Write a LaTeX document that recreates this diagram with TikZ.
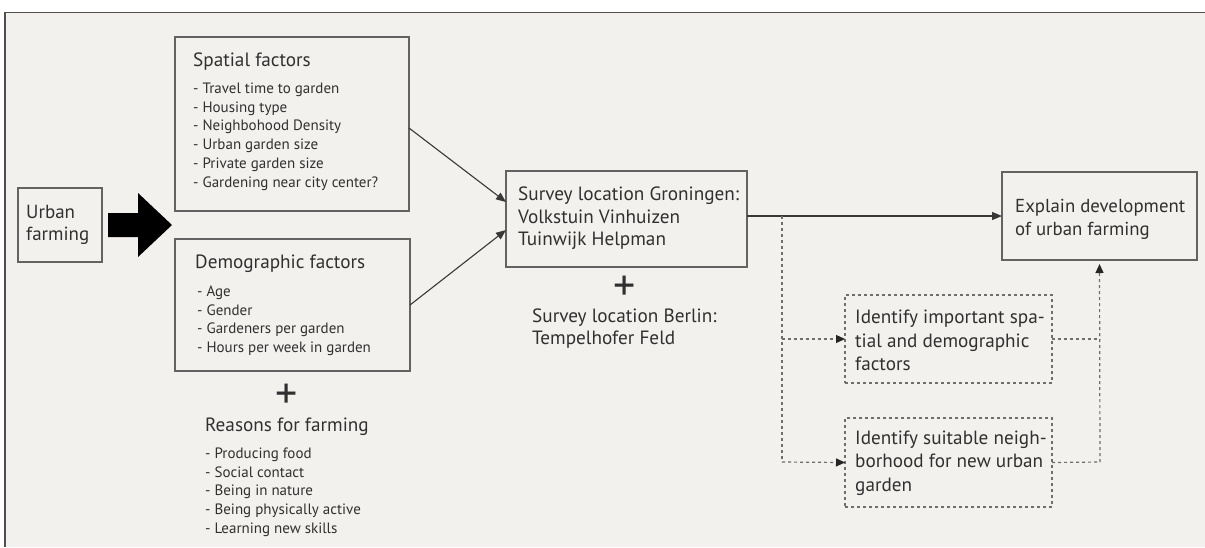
\documentclass[tikz,border=0pt]{standalone}
\usepackage{fontspec}
\setmainfont{PT Sans}
\usetikzlibrary{arrows.meta,calc}
\definecolor{bg}{HTML}{F2F1EE}
\definecolor{txt}{HTML}{303030}
\definecolor{frame}{HTML}{636363}
\definecolor{dline}{HTML}{6E6E6E}
\newlength\calw
\newcommand\calib[3]{\settowidth\calw{\fontsize{10}{12}\selectfont #2}\pgfmathsetmacro#1{10*#3/\calw}}
\tikzset{
  box/.style={draw=frame, line width=1.4pt, inner sep=0pt, outer sep=0pt},
  dbox/.style={draw=dline, line width=1.2pt, dash pattern=on 3pt off 3pt, inner sep=0pt, outer sep=0pt},
  txtbase/.style={text=txt, inner sep=0pt, anchor=base west},
  item/.style={txtbase, font=\fontsize{\szitem}{\szitem}\selectfont},
  ttl/.style={txtbase, font=\fontsize{\szttl}{\szttl}\selectfont},
  surv/.style={txtbase, font=\fontsize{\szsurv}{\szsurv}\selectfont},
  expl/.style={txtbase, font=\fontsize{\szexpl}{\szexpl}\selectfont},
  iden/.style={txtbase, font=\fontsize{\sziden}{\sziden}\selectfont},
  urb/.style={txtbase, font=\fontsize{\szurb}{\szurb}\selectfont},
  conn/.style={draw=black!78, line width=1.1pt, -{Triangle[length=10pt,width=8pt]}},
  dconn/.style={draw=dline, line width=1.2pt, dash pattern=on 3pt off 3pt},
  darr/.style={dconn, -{Triangle[length=9pt,width=8pt,color=black!85,fill=black!85]}},
  plus/.style={text=txt, inner sep=0pt, font=\fontsize{44}{44}\selectfont},
}
\begin{document}
\calib\szitem{- Gardening near city center?}{185}%
\calib\szttl{Demographic factors}{170}%
\calib\szsurv{Survey location Groningen:}{221}%
\calib\szexpl{Explain development}{170}%
\calib\sziden{borhood for new urban}{188}%
\calib\szurb{farming}{63}%
\begin{tikzpicture}[x=1pt,y=-1pt]
\useasboundingbox (0,0) rectangle (1205,547);
\fill[white] (0,0) rectangle (1205,547);
\fill[bg] (5,13) rectangle (1205,547);
\draw[frame!80!black, line width=1.5pt] (5,547) -- (5,12.5) -- (1205,12.5);

% Urban farming
\node[box, minimum width=84pt, minimum height=74pt] (urban) at (60,225) {};
\node[urb] (u1) at (26,218) {Urban};
\node[urb] (u2) at (26,240) {farming};
\fill[black] ($(urban.east)+(6,-12)$) -- ++(30,0) -- ++(0,-20) -- ++(34,32) -- ++(-34,32) -- ++(0,-20) -- ++(-30,0) -- cycle;

% Spatial factors
\node[box, minimum width=234pt, minimum height=174pt] (spatial) at (292,124) {};
\node[ttl] (spt) at (193,66) {Spatial factors};
\foreach \t [count=\i] in {{- Travel time to garden},{- Housing type},{- Neighbohood Density},{- Urban garden size},{- Private garden size},{- Gardening near city center?}}
  \node[item] (sp\i) at (193,{93.5+18.7*(\i-1)}) {\t};

% Demographic factors
\node[box, minimum width=235pt, minimum height=132pt] (demo) at (292.5,305) {};
\node[ttl] (dmt) at (195,268) {Demographic factors};
\foreach \t [count=\i] in {{- Age},{- Gender},{- Gardeners per garden},{- Hours per week in garden}}
  \node[item] (dm\i) at (197,{296.5+18.5*(\i-1)}) {\t};

\node[plus] (plus1) at (287,396) {+};
\node[ttl] (rst) at (205,431) {Reasons for farming};
\foreach \t [count=\i] in {{- Producing food},{- Social contact},{- Being in nature},{- Being physically active},{- Learning new skills}}
  \node[item] (rs\i) at (205,{458.5+18.7*(\i-1)}) {\t};

% Survey
\node[box, minimum width=241pt, minimum height=96pt] (survey) at (626.5,219) {};
\node[surv] (sv1) at (518,200.5) {Survey location Groningen:};
\node[surv] (sv2) at (518,223.5) {Volkstuin Vinhuizen};
\node[surv] (sv3) at (518,245.5) {Tuinwijk Helpman};
\node[plus] (plus2) at (625,288) {+};
\node[surv] (be1) at (532,322) {Survey location Berlin:};
\node[surv] (be2) at (532,344) {Tempelhofer Feld};

% Explain
\node[box, minimum width=195pt, minimum height=88pt] (explain) at (1099.5,216) {};
\node[expl] (ex1) at (1015,212.5) {Explain development};
\node[expl] (ex2) at (1015,235.5) {of urban farming};

% Dashed boxes
\node[dbox, minimum width=207pt, minimum height=88pt] (id1) at (948.5,339) {};
\node[iden] (i11) at (855,323.5) {Identify important spa-};
\node[iden] (i12) at (855,347) {tial and demographic};
\node[iden] (i13) at (855,370) {factors};
\node[dbox, minimum width=207pt, minimum height=89pt] (id2) at (948.5,462.5) {};
\node[iden] (i21) at (855,444.5) {Identify suitable neigh-};
\node[iden] (i22) at (855,467.5) {borhood for new urban};
\node[iden] (i23) at (855,491) {garden};

% connectors
\draw[conn] ([yshift=-4pt]spatial.east) -- ([yshift=17pt]survey.west);
\draw[conn] (demo.east) -- ([yshift=-11pt]survey.west);
\draw[conn] (survey.east |- explain.west) -- (explain.west);
\coordinate (br) at (782,216);
\coordinate (bl1) at (782,339);
\coordinate (bl2) at (782,462);
\coordinate (rr) at (1100,462);
\draw[dconn] (br) -- (bl2);
\draw[darr] (bl1) -- (id1.west);
\draw[darr] (bl2) -- (id2.west);
\draw[dconn] (id1.east) -- (id1.east -| rr);
\draw[dconn] (id2.east) -- (rr);
\draw[darr] (rr) -- ([yshift=-4pt]explain.south);
\end{tikzpicture}
\end{document}
